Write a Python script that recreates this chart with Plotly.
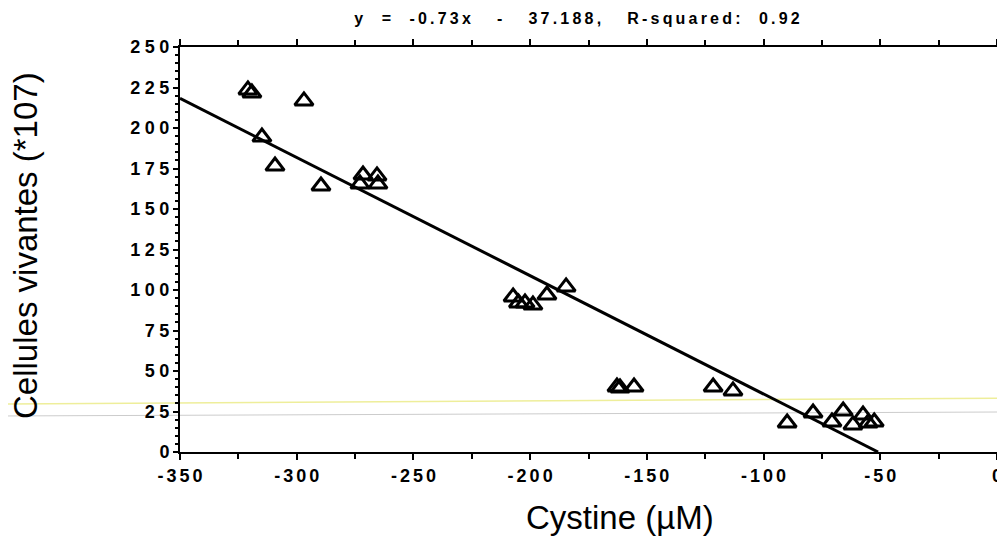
import plotly.graph_objects as go

# cystine (uM) vs living cells (*10^7)
cystine = [-320.9, -319.2, -296.9, -314.9, -309.3, -289.6,
           -271.6, -265.6, -272.9, -265.2,
           -207.3, -205.0, -202.2, -198.8, -192.8, -184.6,
           -162.8, -161.5, -155.5,
           -121.6, -113.1, -89.9, -78.8, -70.7, -65.9,
           -61.7, -57.4, -55.2, -52.6]
cellules = [223.5, 221.6, 216.7, 194.4, 176.5, 164.2,
            171.0, 170.4, 165.4, 165.4,
            95.7, 92.0, 92.0, 90.7, 96.9, 101.9,
            40.1, 39.5, 40.1,
            40.1, 37.7, 17.9, 24.1, 18.5, 25.3,
            16.7, 22.8, 17.9, 18.5]

x_ticks = [-350, -300, -250, -200, -150, -100, -50, 0]
y_ticks = [0, 25, 50, 75, 100, 125, 150, 175, 200, 225, 250]

slope = -0.73
intercept = -37.188
fit_x = [-350, -intercept / slope]
fit_y = [slope * v + intercept for v in fit_x]


def spaced(s, sep="\u2005"):
    # the old printer font is set very wide
    return sep.join(s)


fig = go.Figure()
fig.add_trace(go.Scatter(x=fit_x, y=fit_y, mode="lines",
                         line=dict(color="black", width=3), showlegend=False))
fig.add_trace(go.Scatter(x=cystine, y=cellules, mode="markers",
                         marker=dict(symbol="triangle-up-open", size=16, color="black",
                                     line=dict(width=3, color="black")),
                         showlegend=False))

tickfont = dict(family="Liberation Sans, Arial", size=18, color="black", weight="bold")
titlefont = dict(family="Liberation Sans, Arial", size=33, color="black")

# page has an 8px body margin, so the figure sits at (8, 8)
fig.update_layout(
    width=997, height=538,
    margin=dict(l=172, r=8, t=39, b=94),
    paper_bgcolor="white", plot_bgcolor="white",
    title=dict(text=spaced("y  =  -0.73x   -   37.188,   R-squared:  0.92", "\u2009"),
               x=569 / 997, xanchor="center", y=1 - 10 / 538, yanchor="middle",
               font=dict(family="Liberation Sans, Arial", size=16, color="black", weight="bold")),
    xaxis=dict(range=[-350, 0], tickvals=x_ticks, ticktext=[spaced(str(v), "\u2006") for v in x_ticks],
               showgrid=False, zeroline=False, automargin=False,
               showline=True, linecolor="black", linewidth=2, mirror="ticks",
               ticks="outside", ticklen=6, tickwidth=2, tickcolor="black",
               minor=dict(dtick=25, tick0=-350, ticks="outside", ticklen=5, tickwidth=2,
                          tickcolor="black"),
               tickfont=tickfont),
    yaxis=dict(range=[0, 250], tickvals=y_ticks, ticktext=[spaced(str(v)) for v in y_ticks],
               showgrid=False, zeroline=False, automargin=False,
               showline=True, linecolor="black", linewidth=2, mirror="ticks",
               ticks="outside", ticklen=5, tickwidth=2, tickcolor="black",
               minor=dict(dtick=5, ticks="outside", ticklen=3, tickwidth=1.5, tickcolor="black"),
               tickfont=tickfont),
)

fig.add_annotation(text="Cystine (µM)", xref="paper", yref="paper",
                   x=(620 - 180) / 817, y=(452 - 517) / 405, showarrow=False,
                   xanchor="center", yanchor="middle", font=titlefont)
fig.add_annotation(text="Cellules vivantes (*107)", xref="paper", yref="paper",
                   x=(25 - 180) / 817, y=(452 - 246) / 405, showarrow=False, textangle=-90,
                   xanchor="center", yanchor="middle", font=titlefont)

# faint scanner streaks across the page
fig.add_shape(type="line", xref="paper", yref="paper", x0=-0.2203, x1=1.0098,
              y0=0.1185, y1=0.133, line=dict(color="#eeee9a", width=1.5), layer="below")
fig.add_shape(type="line", xref="paper", yref="paper", x0=-0.2203, x1=1.0098,
              y0=0.0889, y1=0.0988, line=dict(color="#cccccc", width=1), layer="below")

fig.write_html("out.html")
